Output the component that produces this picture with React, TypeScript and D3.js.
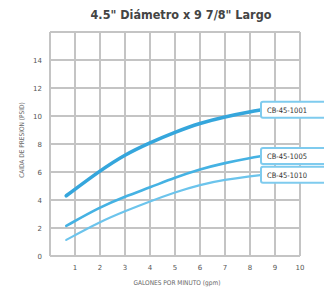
import React from "react";
import * as d3 from "d3";

const title = "4.5\" Diámetro x 9 7/8\" Largo";
const xLabel = "GALONES POR MINUTO (gpm)";
const yLabel = "CAIDA DE PRESION (PSID)";
const xTicks = [1, 2, 3, 4, 5, 6, 7, 8, 9, 10];
const yTicks = [0, 2, 4, 6, 8, 10, 12, 14];
const gpm = [0.65, 2, 3, 4, 5, 6, 7, 8, 8.5];
const cb1001 = [4.3, 6.1, 7.25, 8.1, 8.85, 9.5, 9.95, 10.3, 10.45];
const cb1005 = [2.15, 3.5, 4.25, 4.9, 5.6, 6.2, 6.65, 7.0, 7.15];
const cb1010 = [1.15, 2.45, 3.2, 3.9, 4.55, 5.1, 5.45, 5.7, 5.8];
const seriesNames = ["CB-45-1001", "CB-45-1005", "CB-45-1010"];

export default function App() {
  const W = 324, H = 297;
  const x = d3.scaleLinear().domain([0, 10]).range([50, 300]);
  const y = d3.scaleLinear().domain([0, 16]).range([256, 32]);
  const series = [
    { name: seriesNames[0], vals: cb1001, color: "#35a6dc", w: 3.6 },
    { name: seriesNames[1], vals: cb1005, color: "#45b2e3", w: 2.6 },
    { name: seriesNames[2], vals: cb1010, color: "#6cc4ec", w: 2.2 },
  ];
  const line = d3
    .line<number>()
    .x((_, i) => x(gpm[i]))
    .y((d) => y(d))
    .curve(d3.curveBasis);
  const grid = "#c4c4c4";
  return (
    <svg width={W} height={H} style={{ position: "absolute", left: 0, top: 0, background: "#fff" }}>
      <rect x={0} y={0} width={W} height={H} fill="#fff" />
      <text x={181} y={19} textAnchor="middle" fontFamily="DejaVu Sans Condensed, DejaVu Sans" fontWeight={700} fontSize={12.5} fill="#444">
        {title}
      </text>
      {d3.range(0, 11).map((v) => (
        <line key={"vx" + v} x1={x(v)} x2={x(v)} y1={y(16)} y2={y(0)} stroke={grid} strokeWidth={2} />
      ))}
      {d3.range(0, 17, 2).map((v) => (
        <line key={"hy" + v} x1={x(0)} x2={x(10)} y1={y(v)} y2={y(v)} stroke={grid} strokeWidth={2} />
      ))}
      {yTicks.map((v) => (
        <text key={"yt" + v} x={42} y={y(v) + 2.5} textAnchor="end" fontFamily="DejaVu Sans" fontSize={7} fill="#555">
          {v}
        </text>
      ))}
      {xTicks.map((v) => (
        <text key={"xt" + v} x={x(v)} y={270} textAnchor="middle" fontFamily="DejaVu Sans" fontSize={7} fill="#555">
          {v}
        </text>
      ))}
      <text x={177} y={285} textAnchor="middle" fontFamily="DejaVu Sans Condensed, DejaVu Sans" fontSize={6.5} fill="#666">
        {xLabel}
      </text>
      <text
        transform={`translate(24,140) rotate(-90)`}
        textAnchor="middle"
        fontFamily="DejaVu Sans Condensed, DejaVu Sans"
        fontSize={6.5}
        fill="#666"
      >
        {yLabel}
      </text>
      {series.map((s) => (
        <path key={s.name} d={line(s.vals) || ""} fill="none" stroke={s.color} strokeWidth={s.w} strokeLinecap="round" />
      ))}
      {series.map((s) => {
        const ly = y(s.vals[s.vals.length - 1]);
        return (
          <g key={"lb" + s.name}>
            <rect x={261} y={ly - 8} width={72} height={16} rx={2} fill="#fff" stroke="#7fcbee" strokeWidth={2} />
            <text x={267} y={ly + 2.8} fontFamily="DejaVu Sans Condensed, DejaVu Sans" fontSize={7.5} fill="#333">
              {s.name}
            </text>
          </g>
        );
      })}
    </svg>
  );
}
